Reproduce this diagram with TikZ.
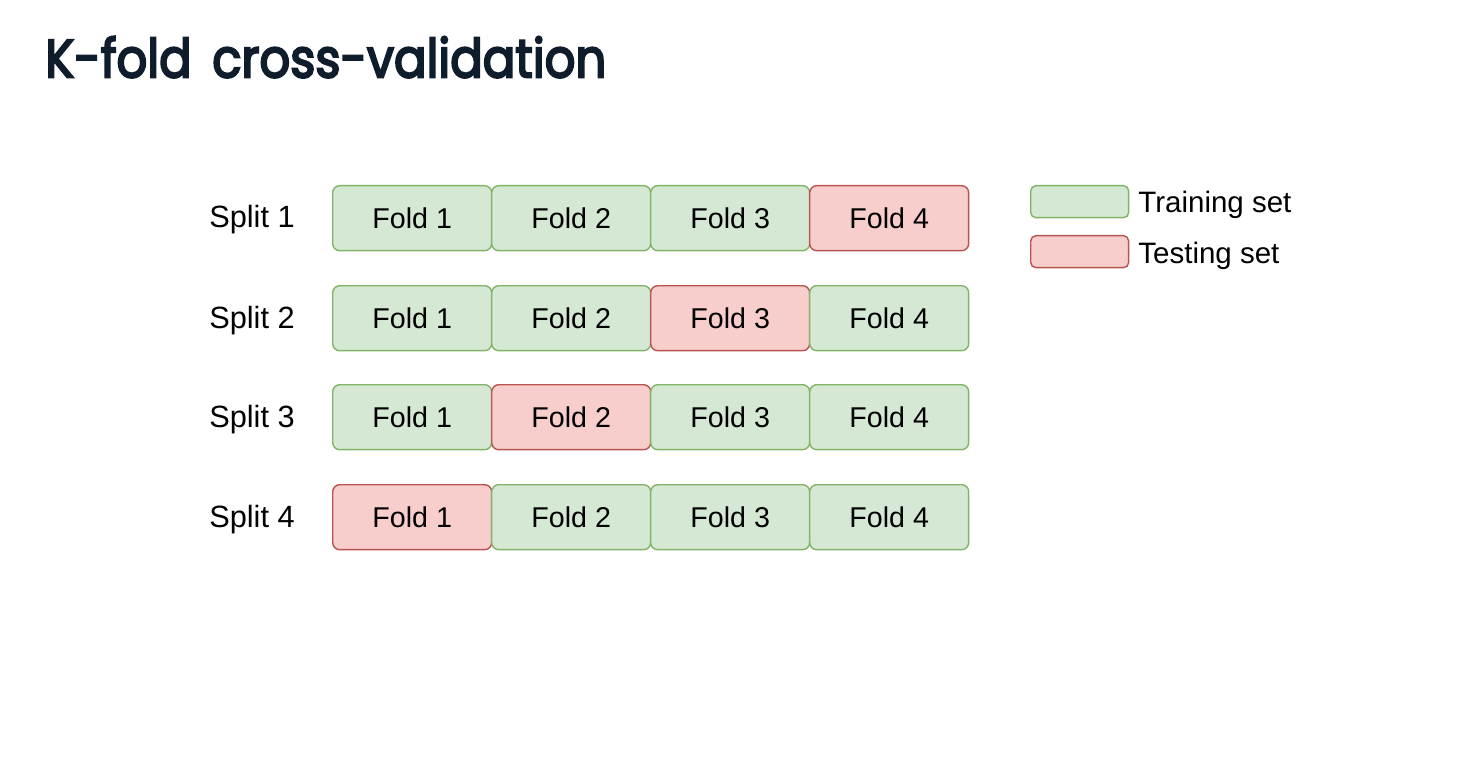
\documentclass[tikz,border=0pt]{standalone}
\usepackage{fontspec}
\usepackage{graphicx}
\setmainfont{Liberation Sans}
\newfontfamily\titlefont[FakeBold=4,WordSpace=1.6]{Poppins}
\definecolor{trainfill}{HTML}{D5E8D4}
\definecolor{trainline}{HTML}{82B366}
\definecolor{testfill}{HTML}{F8CECC}
\definecolor{testline}{HTML}{B85450}
\definecolor{titlecol}{HTML}{0E1C2C}
\begin{document}
\begin{tikzpicture}[x=0.02cm,y=-0.02cm,
  fold/.style={draw=trainline,fill=trainfill,line width=0.8pt,rounded corners=4pt,
    minimum width=3.18cm,minimum height=1.3cm,inner sep=0pt,
    font=\fontsize{16.3}{19}\selectfont,anchor=north west},
  train/.style={fold},
  test/.style={fold,draw=testline,fill=testfill},
  splitlbl/.style={font=\fontsize{17.5}{20}\selectfont,anchor=base,inner sep=0pt},
  legbox/.style={draw=trainline,fill=trainfill,line width=0.8pt,rounded corners=3pt,
    minimum width=1.96cm,minimum height=0.64cm,inner sep=0pt,anchor=north west},
  legtext/.style={font=\fontsize{16.8}{19}\selectfont,anchor=base west,inner sep=0pt}]
\useasboundingbox (0,0) rectangle (1480,760);
\fill[white] (0,0) rectangle (1480,760);
\node[anchor=north west,inner sep=0pt,text=titlecol] (title) at (45,36)
  {\resizebox{11.22cm}{0.82cm}{\titlefont K-fold cross-validation}};

% row 1
\node[splitlbl] (s1) at (252,228) {Split 1};
\node[train] (r1f1) at (332,185) {Fold 1};
\node[train] (r1f2) at (491,185) {Fold 2};
\node[train] (r1f3) at (650,185) {Fold 3};
\node[test]  (r1f4) at (809,185) {Fold 4};
% row 2
\node[splitlbl] (s2) at (252,328) {Split 2};
\node[train] (r2f1) at (332,285) {Fold 1};
\node[train] (r2f2) at (491,285) {Fold 2};
\node[test]  (r2f3) at (650,285) {Fold 3};
\node[train] (r2f4) at (809,285) {Fold 4};
% row 3
\node[splitlbl] (s3) at (252,427) {Split 3};
\node[train] (r3f1) at (332,384) {Fold 1};
\node[test]  (r3f2) at (491,384) {Fold 2};
\node[train] (r3f3) at (650,384) {Fold 3};
\node[train] (r3f4) at (809,384) {Fold 4};
% row 4
\node[splitlbl] (s4) at (252,527) {Split 4};
\node[test]  (r4f1) at (332,484) {Fold 1};
\node[train] (r4f2) at (491,484) {Fold 2};
\node[train] (r4f3) at (650,484) {Fold 3};
\node[train] (r4f4) at (809,484) {Fold 4};

% legend
\node[legbox] (ltrain) at (1030,185) {};
\node[legbox,draw=testline,fill=testfill] (ltest) at (1030,235) {};
\node[legtext] (ltraintxt) at (1138,213) {Training set};
\node[legtext] (ltesttxt) at (1138,263) {Testing set};
\end{tikzpicture}
\end{document}
